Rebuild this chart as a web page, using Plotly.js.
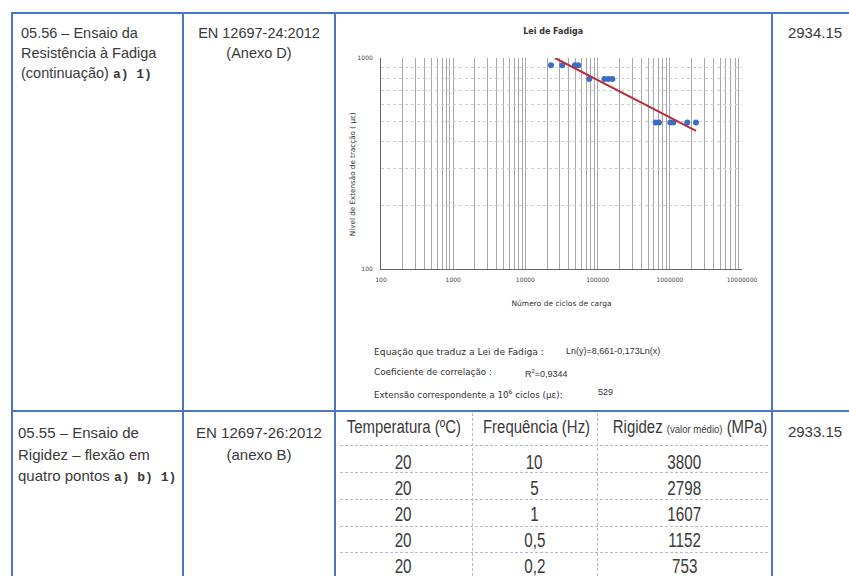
<!DOCTYPE html>
<html><head><meta charset="utf-8">
<script src="https://cdn.plot.ly/plotly-3.0.1.min.js"></script>
<style>
body{margin:0;background:#fff;width:849px;height:576px;overflow:hidden;position:relative;font-family:"Liberation Sans",Arial,sans-serif;color:#3a3a3a}
.h{position:absolute;height:2px;background:#4a74c4}
.v{position:absolute;width:2px;background:#4a74c4}
.t{position:absolute;white-space:nowrap}
.m{font-family:"Liberation Mono",monospace;font-weight:bold;font-size:13px}
.dh{position:absolute;height:0;border-top:1px dashed #b8bcc8}
.dv{position:absolute;width:0;border-left:1px dashed #b8bcc8}
.cell{position:absolute;text-align:center;white-space:nowrap}
.sq{display:inline-block;transform:scaleX(0.83)}
.ct{position:absolute;white-space:nowrap;font-family:"DejaVu Sans",sans-serif;font-size:8.8px;color:#333;line-height:12px}
#chart{position:absolute;left:336px;top:14px;width:436px;height:397px}
</style></head>
<body>
<div class="h" style="left:12px;top:12px;width:837px"></div>
<div class="h" style="left:12px;top:410px;width:837px"></div>
<div class="v" style="left:11px;top:12px;height:564px"></div>
<div class="v" style="left:182px;top:12px;height:564px"></div>
<div class="v" style="left:334px;top:12px;height:564px"></div>
<div class="v" style="left:771px;top:12px;height:564px"></div>

<div class="t" style="left:21px;top:23px;font-size:14.5px;line-height:20px">05.56 – Ensaio da<br>Resistência à Fadiga<br>(continuação) <span class="m">a) 1)</span></div>
<div class="t" style="left:183px;top:23px;width:152px;text-align:center;font-size:14.5px;line-height:20px">EN 12697-24:2012<br>(Anexo D)</div>
<div class="t" style="left:772px;top:23px;width:86px;text-align:center;font-size:15px;line-height:20px">2934.15</div>

<div class="t" style="left:18px;top:422px;font-size:15px;line-height:21.5px">05.55 – Ensaio de<br>Rigidez – flexão em<br>quatro pontos <span class="m">a) b) 1)</span></div>
<div class="t" style="left:183px;top:422px;width:152px;text-align:center;font-size:15px;line-height:21.5px">EN 12697-26:2012<br>(anexo B)</div>
<div class="t" style="left:772px;top:422px;width:86px;text-align:center;font-size:15px;line-height:20px">2933.15</div>

<div id="chart"></div>
<div class="ct" style="left:374px;top:346px;font-size:9.2px">Equação que traduz a Lei de Fadiga :</div>
<div class="ct" style="left:566px;top:345px;font-family:'Liberation Sans',sans-serif;font-size:9px">Ln(y)=8,661-0,173Ln(x)</div>
<div class="ct" style="left:374px;top:366px">Coeficiente de correlação :</div>
<div class="ct" style="left:525px;top:365px;font-family:'Liberation Sans',sans-serif;font-size:9px">R<sup style="font-size:6px">2</sup>=0,9344</div>
<div class="ct" style="left:374px;top:386px">Extensão correspondente a 10<sup style="font-size:6px">6</sup> ciclos (με):</div>
<div class="ct" style="left:598px;top:386px;font-family:'Liberation Sans',sans-serif;font-size:9px">529</div>

<div id="tbl"></div>

<script>
// Fatigue data (cycles, strain in microstrain)
var cycles = [22600, 32400, 48600, 54000, 76700, 124000, 140700, 160000, 638000, 708000, 1016000, 1117000, 1747000, 2306000];
var strain = [923, 923, 923, 923, 795, 795, 795, 795, 494, 494, 494, 494, 494, 494];
// Trend line end points
var fitCycles = [25700, 2310000];
var fitStrain = [1000, 452];
var xTickLabels = ['100', '1000', '10000', '100000', '1000000', '10000000'];
var yTickLabels = ['100', '1000'];

// Stiffness table
var tblHeaders = ['Temperatura (ºC)', 'Frequência (Hz)', 'Rigidez <span style="font-size:11.5px">(valor médio)</span> (MPa)'];
var temps = ['20', '20', '20', '20', '20'];
var freqs = ['10', '5', '1', '0,5', '0,2'];
var rigidez = ['3800', '2798', '1607', '1152', '753'];

// build stiffness sub-table
(function(){
  var colL = [335, 472, 597], colW = [137, 125, 175];
  var tb = document.getElementById('tbl');
  var html = '';
  var hLines = [445, 472, 499, 526, 552];
  hLines.forEach(function(y){ html += '<div class="dh" style="left:340px;width:428px;top:'+y+'px"></div>'; });
  [472, 597].forEach(function(x){ html += '<div class="dv" style="top:413px;height:163px;left:'+x+'px"></div>'; });
  tblHeaders.forEach(function(h,i){
    var w = colW[i] - (i === 2 ? 12 : 0);
    html += '<div class="cell" style="left:'+colL[i]+'px;width:'+w+'px;top:416px;font-size:18px;line-height:22px"><span class="sq">'+h+'</span></div>';
  });
  var cols = [temps, freqs, rigidez];
  for (var r=0;r<temps.length;r++){
    var cy = 461.5 + r*26;
    for (var c=0;c<3;c++){
      html += '<div class="cell" style="left:'+colL[c]+'px;width:'+colW[c]+'px;top:'+(cy-12)+'px;font-size:20px;line-height:24px"><span class="sq" style="transform:scaleX(0.76)">'+cols[c][r]+'</span></div>';
    }
  }
  tb.innerHTML = html;
})();

// grid positions for log axes
var xVals = [], xText = [];
for (var k=2;k<7;k++){ for (var m=1;m<10;m++){ xVals.push(m*Math.pow(10,k)); xText.push(m===1 ? xTickLabels[k-2] : ''); } }
xVals.push(1e7); xText.push(xTickLabels[5]);
var yVals = [], yText = [];
for (var m2=1;m2<=10;m2++){ yVals.push(m2*100); yText.push(m2===1 ? yTickLabels[0] : (m2===10 ? yTickLabels[1] : '')); }

var traces = [
  {x: cycles, y: strain, type: 'scatter', mode: 'markers', marker: {color: '#3d6cc4', size: 6}, hoverinfo: 'none'},
  {x: fitCycles, y: fitStrain, type: 'scatter', mode: 'lines', line: {color: '#b5303f', width: 2}, hoverinfo: 'none'}
];
var tf = {family: 'DejaVu Sans, sans-serif', size: 6, color: '#444'};
var layout = {
  width: 436, height: 397,
  margin: {l: 45, r: 30, t: 44, b: 142},
  paper_bgcolor: 'rgba(0,0,0,0)', plot_bgcolor: '#fff',
  showlegend: false,
  title: {text: '<b>Lei de Fadiga</b>', x: 0.498, xanchor: 'center', y: 0.957, yanchor: 'middle', font: {family: 'DejaVu Sans, sans-serif', size: 8, color: '#333'}},
  xaxis: {type: 'log', range: [2, 7], tickmode: 'array', tickvals: xVals, ticktext: xText,
    showgrid: true, gridcolor: '#a8a8a8', gridwidth: 1, showline: true, linecolor: '#666', linewidth: 1,
    zeroline: false, ticks: '', tickfont: tf, ticklabelstandoff: 5, tickangle: 0, automargin: false,
    title: {text: 'Número de ciclos de carga', standoff: 18, font: {family: 'DejaVu Sans, sans-serif', size: 7.5, color: '#333'}}},
  yaxis: {type: 'log', range: [2, 3], tickmode: 'array', tickvals: yVals, ticktext: yText,
    showgrid: true, gridcolor: '#cdcdcd', griddash: 'dot', gridwidth: 1, showline: true, linecolor: '#666', linewidth: 1,
    zeroline: false, ticks: '', tickfont: tf, ticklabelstandoff: 6, automargin: false},
  annotations: [
    {text: 'Nível de Extensão de tracção ( με)', xref: 'paper', yref: 'paper', x: -0.08, y: 0.45, xanchor: 'center', yanchor: 'middle',
     textangle: -90, showarrow: false, font: {family: 'DejaVu Sans, sans-serif', size: 7.2, color: '#333'}}
  ]
};
Plotly.newPlot('chart', traces, layout, {displayModeBar: false, staticPlot: true});
</script>
</body></html>
